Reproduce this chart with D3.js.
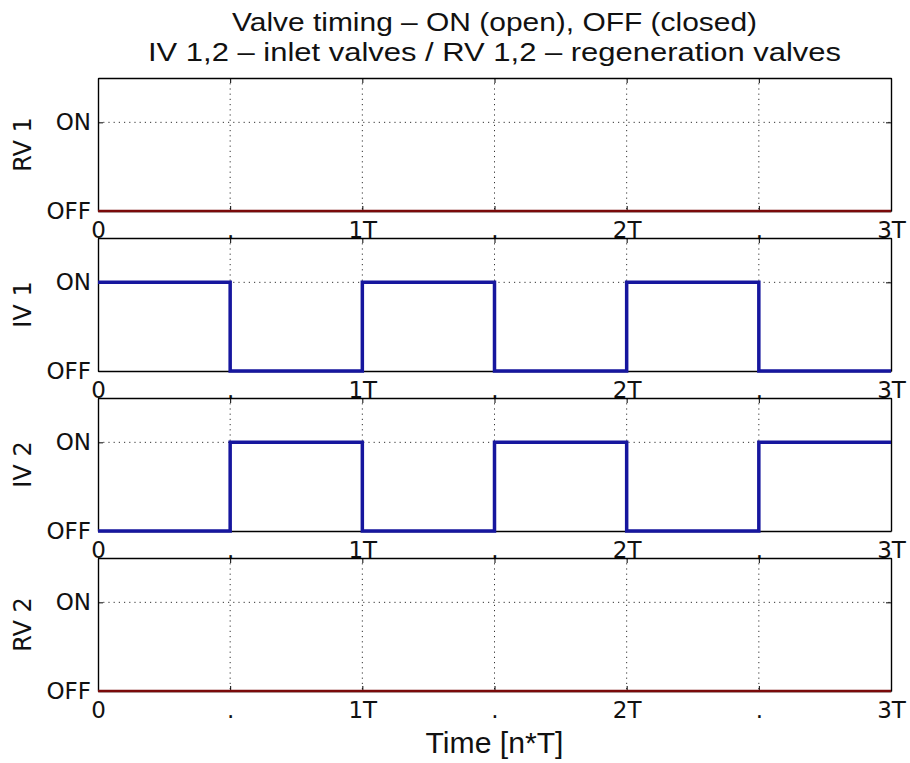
<!DOCTYPE html>
<html>
<head>
<meta charset="utf-8">
<script src="https://cdn.jsdelivr.net/npm/d3@7"></script>
<style>
    body { margin: 0; background: #fff; }
    text { fill: #111; }
</style>
</head>
<body>
<div id="chart"></div>
<script>
// chart values
const valveNames = ["RV 1", "IV 1", "IV 2", "RV 2"];
const stepTimes = [0, 0.5, 1, 1.5, 2, 2.5, 3];
const rv1States = [0, 0, 0, 0, 0, 0, 0];
const iv1States = [1, 0, 1, 0, 1, 0, 0];
const iv2States = [0, 1, 0, 1, 0, 1, 1];
const rv2States = [0, 0, 0, 0, 0, 0, 0];
const timeTicks = [0, 0.5, 1, 1.5, 2, 2.5, 3];
const timeTickLabels = ["0", ".", "1T", ".", "2T", ".", "3T"];
const stateTicks = [0, 1];
const stateTickLabels = ["OFF", "ON"];
const titleLines = ["Valve timing \u2013 ON (open), OFF (closed)",
    "IV 1,2 \u2013 inlet valves / RV 1,2 \u2013 regeneration valves"];
const xLabel = "Time [n*T]";

const valveStates = [rv1States, iv1States, iv2States, rv2States];
const valveColors = ["#7a0a0a", "#16169e", "#16169e", "#7a0a0a"];
const valveWidths = [2.5, 3.5, 3.5, 2.5];

const W = 910, H = 763;
const margin = { left: 98, right: 19, top: 78 };
const width = W - margin.left - margin.right,
    panelH = 133,
    panelStep = 160;

const svg = d3.select("#chart")
    .append("svg")
    .attr("width", W)
    .attr("height", H)
    .style("font-family", "'DejaVu Sans', sans-serif");

const x = d3.scaleLinear().domain([0, 3]).range([0, width]);
const y = d3.scaleLinear().domain([0, 1.5]).range([panelH, 0]);

const line = d3.line()
    .x(d => x(d[0]))
    .y(d => y(d[1]))
    .curve(d3.curveStepAfter);

valveNames.forEach((name, i) => {
    const g = svg.append("g")
        .attr("transform", `translate(${margin.left},${margin.top + i * panelStep})`);

    // dotted grid
    g.selectAll("line.vgrid")
        .data(timeTicks.slice(1, -1))
        .enter().append("line")
        .attr("x1", d => x(d)).attr("x2", d => x(d))
        .attr("y1", 0).attr("y2", panelH)
        .attr("stroke", "#333").attr("stroke-width", 1)
        .attr("stroke-dasharray", "1.2,4");
    g.append("line")
        .attr("x1", 0).attr("x2", width)
        .attr("y1", y(1)).attr("y2", y(1))
        .attr("stroke", "#333").attr("stroke-width", 1)
        .attr("stroke-dasharray", "1.2,4");

    // axes with inward ticks, top/right mirrors
    const xBottom = g.append("g")
        .attr("transform", `translate(0,${panelH})`)
        .call(d3.axisBottom(x).tickValues(timeTicks)
            .tickFormat((d, k) => timeTickLabels[k])
            .tickSizeInner(-5).tickSizeOuter(0).tickPadding(11));
    const xTop = g.append("g")
        .call(d3.axisTop(x).tickValues(timeTicks).tickFormat("")
            .tickSizeInner(-5).tickSizeOuter(0));
    const yLeft = g.append("g")
        .call(d3.axisLeft(y).tickValues(stateTicks)
            .tickFormat((d, k) => stateTickLabels[k])
            .tickSizeInner(-5).tickSizeOuter(0).tickPadding(7));
    const yRight = g.append("g")
        .attr("transform", `translate(${width},0)`)
        .call(d3.axisRight(y).tickValues(stateTicks).tickFormat("")
            .tickSizeInner(-5).tickSizeOuter(0));

    [xBottom, xTop, yLeft, yRight].forEach(a => {
        a.select(".domain").attr("stroke", "#000").attr("stroke-width", 1.4);
        a.selectAll(".tick line").attr("stroke", "#000").attr("stroke-width", 1);
        a.selectAll("text")
            .style("font-family", "'DejaVu Sans', sans-serif")
            .style("font-size", "23px")
            .attr("fill", "#111");
    });

    // the valve state line
    g.append("path")
        .datum(stepTimes.map((t, k) => [t, valveStates[i][k]]))
        .attr("fill", "none")
        .attr("stroke", valveColors[i])
        .attr("stroke-width", valveWidths[i])
        .attr("d", line);

    // y label
    g.append("text")
        .attr("transform", `translate(${-67},${panelH / 2}) rotate(-90)`)
        .attr("text-anchor", "middle")
        .style("font-size", "24px")
        .text(name);
});

// titles
svg.selectAll("text.title")
    .data(titleLines)
    .enter().append("text")
    .attr("class", "title")
    .attr("x", margin.left + width / 2)
    .attr("y", (d, i) => 31 + i * 30)
    .attr("text-anchor", "middle")
    .attr("textLength", (d, i) => i === 0 ? 525 : 693)
    .attr("lengthAdjust", "spacingAndGlyphs")
    .style("font-family", "'Liberation Sans', Arial, sans-serif")
    .style("font-size", "25px")
    .text(d => d);

// x axis label
svg.append("text")
    .attr("x", margin.left + width / 2)
    .attr("y", 753)
    .attr("text-anchor", "middle")
    .attr("textLength", 138)
    .attr("lengthAdjust", "spacingAndGlyphs")
    .style("font-family", "'Liberation Sans', Arial, sans-serif")
    .style("font-size", "29px")
    .text(xLabel);
</script>
</body>
</html>
